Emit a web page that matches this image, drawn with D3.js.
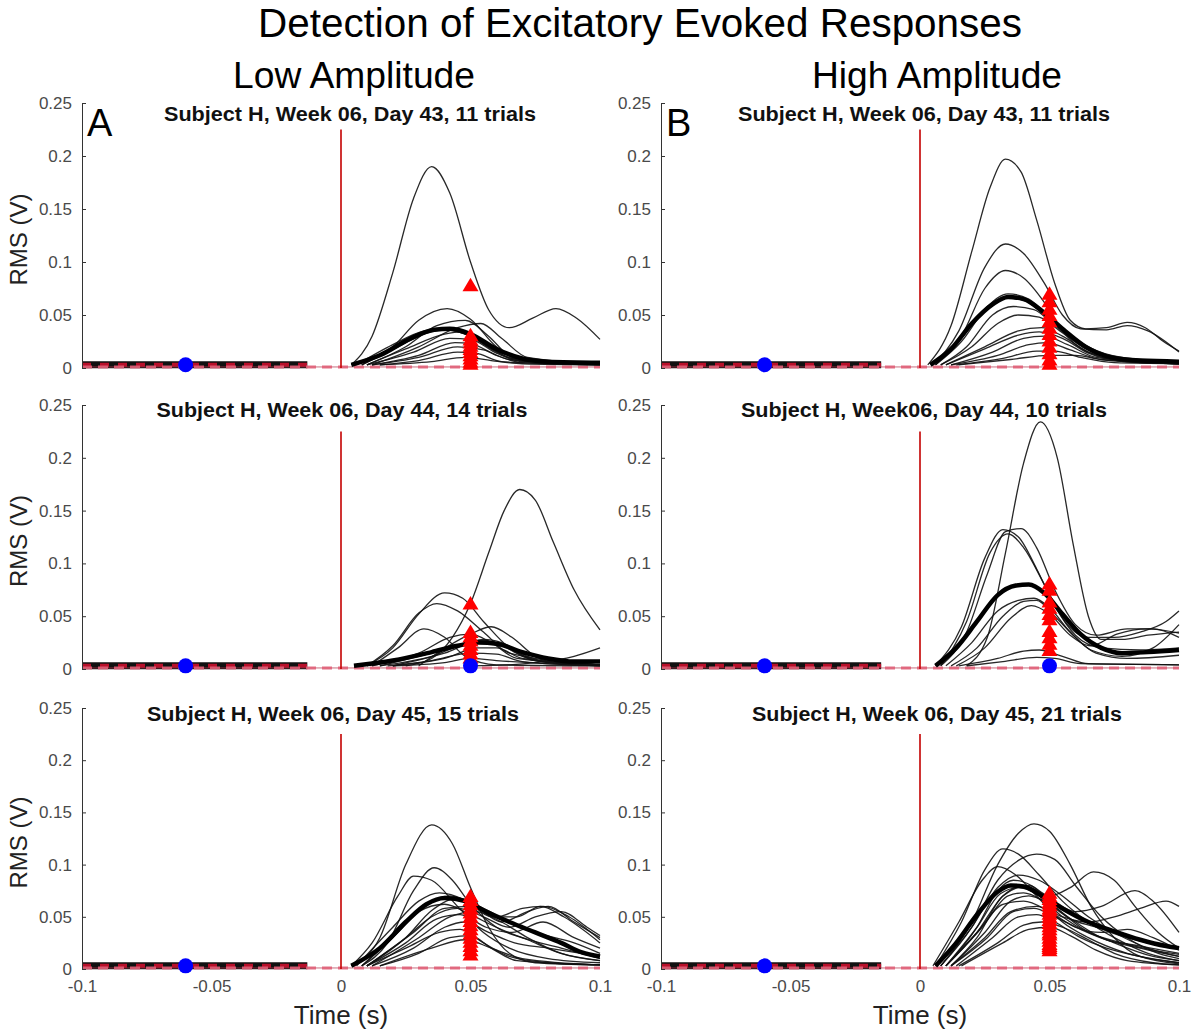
<!DOCTYPE html>
<html><head><meta charset="utf-8">
<script src="https://cdn.jsdelivr.net/npm/d3@7"></script>
<style>
body{margin:0;background:#fff}
svg{display:block}
text{font-family:"Liberation Sans",Arial,Helvetica,sans-serif}
</style>
</head><body>
<svg id="chart" width="1200" height="1030"></svg>
<script>
// ---------------- DATA ----------------
const figureTitle = "Detection of Excitatory Evoked Responses";
const columnTitles = ["Low Amplitude", "High Amplitude"];
// panel order: row1 left, row1 right, row2 left, row2 right, row3 left, row3 right
const panelTitles = [
  "Subject H, Week 06, Day 43, 11 trials",
  "Subject H, Week 06, Day 43, 11 trials",
  "Subject H, Week 06, Day 44, 14 trials",
  "Subject H, Week06, Day 44, 10 trials",
  "Subject H, Week 06, Day 45, 15 trials",
  "Subject H, Week 06, Day 45, 21 trials"
];
const panelLetters = ["A", "B", "", "", "", ""];
const timeTicks = [-0.1, -0.05, 0, 0.05, 0.1];
const rmsTicks = [0, 0.05, 0.1, 0.15, 0.2, 0.25];
const timeDomain = [-0.1, 0.1];
const rmsDomain = [0, 0.25];
const stimulusTime = 0;
const stimulusTop = 0.225;
const detectionTime = 0.05;
const baselineRms = [0.003, 0.003, 0.003, 0.003, 0.003, 0.003];
const baselineEnd = [-0.013, -0.015, -0.013, -0.015, -0.013, -0.015];
const thresholdRms = [0.001, 0.001, 0.001, 0.001, 0.001, 0.001];

const blueDotsA1 = [[-0.06, 0.003]];
const blueDotsB1 = [[-0.06, 0.003]];
const blueDotsA2 = [[-0.06, 0.003], [0.05, 0.003]];
const blueDotsB2 = [[-0.06, 0.003], [0.05, 0.003]];
const blueDotsA3 = [[-0.06, 0.003]];
const blueDotsB3 = [[-0.06, 0.003]];

const trianglesA1 = [0.078, 0.031, 0.027, 0.024, 0.021, 0.018, 0.015, 0.012, 0.009, 0.006, 0.004];
const trianglesB1 = [0.07, 0.063, 0.056, 0.05, 0.044, 0.038, 0.032, 0.026, 0.02, 0.014, 0.008, 0.004];
const trianglesA2 = [0.062, 0.035, 0.031, 0.027, 0.023, 0.019, 0.015, 0.011];
const trianglesB2 = [0.081, 0.075, 0.064, 0.058, 0.052, 0.047, 0.036, 0.03, 0.024, 0.018];
const trianglesA3 = [0.07, 0.066, 0.062, 0.058, 0.054, 0.05, 0.046, 0.042, 0.038, 0.034, 0.03, 0.026, 0.022, 0.018, 0.014];
const trianglesB3 = [0.073, 0.07, 0.067, 0.064, 0.061, 0.058, 0.056, 0.053, 0.05, 0.047, 0.044, 0.041, 0.038, 0.035, 0.033, 0.03, 0.027, 0.024, 0.022, 0.02, 0.018];

const trialsA1 = [
  [[0.004,0.003],[0.012,0.03],[0.02,0.09],[0.028,0.16],[0.035,0.19],[0.042,0.165],[0.05,0.1],[0.057,0.055],[0.065,0.038],[0.074,0.047],[0.083,0.056],[0.091,0.047],[0.1,0.027]],
  [[0.008,0.003],[0.02,0.02],[0.03,0.045],[0.041,0.056],[0.05,0.046],[0.06,0.02],[0.07,0.008],[0.1,0.004]],
  [[0.01,0.003],[0.025,0.02],[0.037,0.04],[0.048,0.045],[0.057,0.03],[0.066,0.01],[0.08,0.005],[0.1,0.004]],
  [[0.012,0.003],[0.03,0.02],[0.045,0.038],[0.054,0.042],[0.062,0.028],[0.072,0.01],[0.1,0.004]],
  [[0.008,0.003],[0.022,0.02],[0.033,0.033],[0.04,0.036],[0.05,0.03],[0.06,0.015],[0.072,0.006],[0.1,0.004]],
  [[0.01,0.003],[0.025,0.018],[0.04,0.032],[0.047,0.034],[0.056,0.022],[0.066,0.009],[0.1,0.004]],
  [[0.01,0.003],[0.028,0.015],[0.042,0.028],[0.05,0.027],[0.06,0.014],[0.07,0.006],[0.1,0.004]],
  [[0.012,0.003],[0.03,0.012],[0.044,0.024],[0.05,0.023],[0.06,0.012],[0.07,0.005],[0.1,0.003]],
  [[0.012,0.003],[0.03,0.01],[0.045,0.02],[0.055,0.017],[0.065,0.008],[0.1,0.003]],
  [[0.015,0.003],[0.03,0.007],[0.045,0.015],[0.052,0.014],[0.062,0.006],[0.1,0.003]],
  [[0.015,0.003],[0.035,0.006],[0.048,0.01],[0.058,0.007],[0.07,0.004],[0.1,0.003]],
  [[0.006,0.003],[0.02,0.022],[0.032,0.035],[0.038,0.037],[0.048,0.032],[0.06,0.016],[0.075,0.007],[0.1,0.005]]
];
const meanA1 = [[0.004,0.003],[0.015,0.012],[0.027,0.028],[0.036,0.036],[0.042,0.037],[0.05,0.032],[0.06,0.018],[0.07,0.009],[0.08,0.006],[0.1,0.005]];

const trialsB1 = [
  [[0.003,0.003],[0.012,0.04],[0.02,0.11],[0.027,0.17],[0.033,0.197],[0.039,0.185],[0.045,0.14],[0.052,0.08],[0.058,0.045],[0.064,0.037],[0.072,0.038],[0.08,0.043],[0.087,0.038],[0.094,0.025],[0.1,0.016]],
  [[0.005,0.003],[0.015,0.035],[0.025,0.095],[0.033,0.117],[0.04,0.108],[0.048,0.08],[0.055,0.05],[0.062,0.037],[0.072,0.036],[0.08,0.04],[0.088,0.035],[0.1,0.015]],
  [[0.006,0.003],[0.016,0.03],[0.025,0.075],[0.033,0.092],[0.04,0.085],[0.048,0.062],[0.055,0.035],[0.065,0.015],[0.08,0.008],[0.1,0.005]],
  [[0.006,0.003],[0.016,0.025],[0.026,0.058],[0.034,0.07],[0.042,0.065],[0.05,0.048],[0.058,0.03],[0.068,0.015],[0.08,0.008],[0.1,0.005]],
  [[0.008,0.003],[0.018,0.02],[0.028,0.05],[0.036,0.058],[0.044,0.055],[0.052,0.04],[0.06,0.025],[0.07,0.012],[0.1,0.005]],
  [[0.008,0.003],[0.02,0.02],[0.03,0.042],[0.038,0.05],[0.046,0.048],[0.054,0.035],[0.064,0.018],[0.075,0.009],[0.1,0.005]],
  [[0.01,0.003],[0.025,0.02],[0.038,0.035],[0.047,0.038],[0.055,0.03],[0.065,0.015],[0.08,0.006],[0.1,0.004]],
  [[0.01,0.003],[0.025,0.018],[0.038,0.031],[0.046,0.034],[0.055,0.028],[0.065,0.014],[0.08,0.006],[0.1,0.004]],
  [[0.012,0.003],[0.028,0.015],[0.04,0.028],[0.048,0.03],[0.057,0.022],[0.068,0.01],[0.1,0.004]],
  [[0.012,0.003],[0.03,0.012],[0.042,0.022],[0.049,0.024],[0.058,0.017],[0.07,0.008],[0.1,0.004]],
  [[0.014,0.003],[0.032,0.009],[0.045,0.016],[0.052,0.016],[0.062,0.01],[0.075,0.005],[0.1,0.004]],
  [[0.015,0.003],[0.035,0.008],[0.05,0.012],[0.06,0.012],[0.07,0.008],[0.1,0.004]],
  [[0.006,0.003],[0.016,0.028],[0.025,0.055],[0.033,0.066],[0.04,0.064],[0.048,0.05],[0.056,0.035],[0.065,0.02],[0.078,0.01],[0.1,0.006]]
];
const meanB1 = [[0.004,0.003],[0.012,0.018],[0.02,0.042],[0.028,0.06],[0.034,0.067],[0.04,0.065],[0.048,0.052],[0.056,0.035],[0.064,0.02],[0.074,0.01],[0.085,0.007],[0.1,0.006]];

const trialsA2 = [
  [[0.025,0.003],[0.035,0.01],[0.043,0.03],[0.05,0.062],[0.057,0.11],[0.063,0.15],[0.069,0.17],[0.075,0.16],[0.082,0.12],[0.09,0.075],[0.1,0.037]],
  [[0.01,0.003],[0.02,0.02],[0.03,0.052],[0.04,0.072],[0.047,0.067],[0.055,0.045],[0.065,0.02],[0.075,0.008],[0.1,0.004]],
  [[0.01,0.003],[0.02,0.022],[0.03,0.053],[0.037,0.062],[0.045,0.055],[0.055,0.035],[0.065,0.015],[0.1,0.004]],
  [[0.012,0.003],[0.022,0.02],[0.032,0.038],[0.04,0.03],[0.048,0.012],[0.06,0.004],[0.1,0.003]],
  [[0.015,0.003],[0.03,0.012],[0.045,0.022],[0.055,0.027],[0.065,0.02],[0.075,0.008],[0.1,0.004]],
  [[0.015,0.003],[0.035,0.012],[0.05,0.025],[0.058,0.026],[0.068,0.015],[0.08,0.006],[0.1,0.004]],
  [[0.02,0.003],[0.04,0.015],[0.055,0.028],[0.062,0.025],[0.072,0.012],[0.085,0.005],[0.1,0.004]],
  [[0.02,0.003],[0.04,0.01],[0.053,0.02],[0.06,0.02],[0.07,0.01],[0.1,0.004]],
  [[0.018,0.003],[0.035,0.008],[0.05,0.015],[0.06,0.014],[0.07,0.007],[0.1,0.003]],
  [[0.02,0.003],[0.04,0.006],[0.05,0.01],[0.06,0.008],[0.1,0.003]],
  [[0.03,0.003],[0.05,0.033],[0.058,0.04],[0.066,0.03],[0.075,0.012],[0.085,0.005],[0.1,0.004]],
  [[0.05,0.003],[0.065,0.004],[0.075,0.006],[0.09,0.012],[0.1,0.02]],
  [[0.012,0.003],[0.03,0.015],[0.042,0.03],[0.05,0.033],[0.058,0.025],[0.068,0.01],[0.1,0.004]]
];
const meanA2 = [[0.005,0.003],[0.02,0.008],[0.035,0.016],[0.045,0.022],[0.053,0.025],[0.06,0.024],[0.07,0.016],[0.08,0.01],[0.09,0.007],[0.1,0.007]];

const trialsB2 = [
  [[0.018,0.003],[0.026,0.03],[0.033,0.11],[0.04,0.195],[0.0465,0.234],[0.053,0.2],[0.059,0.12],[0.065,0.05],[0.07,0.028],[0.078,0.028],[0.088,0.032],[0.1,0.035]],
  [[0.006,0.003],[0.016,0.04],[0.025,0.105],[0.032,0.132],[0.038,0.125],[0.045,0.095],[0.052,0.06],[0.06,0.032],[0.07,0.02],[0.085,0.018],[0.1,0.02]],
  [[0.008,0.003],[0.018,0.035],[0.026,0.09],[0.033,0.13],[0.039,0.133],[0.045,0.115],[0.052,0.075],[0.06,0.042],[0.068,0.032],[0.08,0.038],[0.09,0.038],[0.1,0.03]],
  [[0.008,0.003],[0.018,0.045],[0.027,0.11],[0.034,0.128],[0.04,0.115],[0.048,0.08],[0.056,0.045],[0.065,0.03],[0.075,0.03],[0.085,0.035],[0.095,0.045],[0.1,0.055]],
  [[0.01,0.003],[0.02,0.025],[0.03,0.055],[0.038,0.065],[0.044,0.067],[0.05,0.058],[0.058,0.035],[0.066,0.018],[0.078,0.012],[0.09,0.02],[0.1,0.042]],
  [[0.012,0.003],[0.022,0.02],[0.032,0.05],[0.04,0.064],[0.045,0.065],[0.052,0.05],[0.06,0.03],[0.068,0.015],[0.08,0.01],[0.1,0.013]],
  [[0.014,0.003],[0.025,0.02],[0.035,0.048],[0.043,0.06],[0.05,0.052],[0.058,0.032],[0.066,0.022],[0.076,0.033],[0.088,0.038],[0.1,0.034]],
  [[0.015,0.003],[0.03,0.01],[0.04,0.017],[0.046,0.018],[0.055,0.012],[0.065,0.005],[0.1,0.004]],
  [[0.018,0.003],[0.032,0.007],[0.045,0.011],[0.052,0.01],[0.062,0.005],[0.1,0.004]]
];
const meanB2 = [[0.006,0.003],[0.014,0.02],[0.022,0.045],[0.03,0.07],[0.037,0.079],[0.042,0.08],[0.048,0.072],[0.055,0.052],[0.062,0.033],[0.07,0.02],[0.078,0.015],[0.088,0.016],[0.1,0.018]];

const trialsA3 = [
  [[0.004,0.003],[0.015,0.03],[0.025,0.1],[0.035,0.138],[0.043,0.12],[0.05,0.078],[0.057,0.04],[0.065,0.015],[0.075,0.006],[0.1,0.004]],
  [[0.008,0.003],[0.018,0.025],[0.028,0.075],[0.036,0.097],[0.043,0.085],[0.05,0.062],[0.06,0.04],[0.072,0.028],[0.085,0.015],[0.1,0.008]],
  [[0.004,0.003],[0.012,0.025],[0.022,0.07],[0.028,0.089],[0.035,0.085],[0.045,0.06],[0.055,0.035],[0.065,0.02],[0.08,0.01],[0.1,0.006]],
  [[0.006,0.003],[0.02,0.04],[0.03,0.065],[0.038,0.073],[0.048,0.066],[0.058,0.05],[0.068,0.05],[0.077,0.06],[0.086,0.05],[0.1,0.025]],
  [[0.008,0.003],[0.022,0.035],[0.032,0.06],[0.042,0.07],[0.052,0.06],[0.062,0.045],[0.072,0.055],[0.08,0.06],[0.09,0.045],[0.1,0.03]],
  [[0.01,0.003],[0.025,0.03],[0.035,0.05],[0.045,0.058],[0.055,0.05],[0.065,0.04],[0.075,0.05],[0.085,0.055],[0.095,0.04],[0.1,0.032]],
  [[0.01,0.003],[0.025,0.025],[0.037,0.048],[0.046,0.052],[0.056,0.04],[0.066,0.035],[0.078,0.045],[0.09,0.03],[0.1,0.02]],
  [[0.012,0.003],[0.028,0.02],[0.04,0.04],[0.048,0.045],[0.057,0.035],[0.067,0.025],[0.08,0.02],[0.1,0.012]],
  [[0.01,0.003],[0.025,0.02],[0.038,0.035],[0.046,0.038],[0.055,0.025],[0.065,0.012],[0.08,0.006],[0.1,0.004]],
  [[0.015,0.003],[0.03,0.015],[0.042,0.03],[0.05,0.032],[0.058,0.02],[0.068,0.008],[0.1,0.004]],
  [[0.008,0.003],[0.02,0.03],[0.03,0.055],[0.04,0.062],[0.05,0.052],[0.06,0.04],[0.07,0.03],[0.085,0.02],[0.1,0.01]],
  [[0.01,0.003],[0.025,0.03],[0.035,0.056],[0.045,0.068],[0.055,0.058],[0.065,0.045],[0.075,0.035],[0.09,0.025],[0.1,0.015]],
  [[0.012,0.003],[0.03,0.03],[0.042,0.05],[0.052,0.055],[0.062,0.045],[0.072,0.03],[0.085,0.015],[0.1,0.008]],
  [[0.01,0.003],[0.028,0.035],[0.04,0.058],[0.05,0.06],[0.06,0.05],[0.07,0.058],[0.078,0.06],[0.088,0.05],[0.1,0.028]],
  [[0.015,0.003],[0.035,0.02],[0.048,0.028],[0.058,0.02],[0.07,0.01],[0.1,0.004]]
];
const meanA3 = [[0.004,0.003],[0.015,0.02],[0.025,0.045],[0.033,0.062],[0.04,0.068],[0.048,0.065],[0.056,0.055],[0.065,0.045],[0.075,0.035],[0.085,0.025],[0.093,0.016],[0.1,0.012]];

const trialsB3 = [
  [[0.008,0.003],[0.02,0.045],[0.03,0.1],[0.038,0.13],[0.044,0.139],[0.05,0.132],[0.058,0.1],[0.066,0.06],[0.075,0.03],[0.085,0.012],[0.1,0.005]],
  [[0.006,0.003],[0.016,0.045],[0.025,0.095],[0.032,0.115],[0.038,0.11],[0.046,0.09],[0.055,0.065],[0.065,0.045],[0.075,0.03],[0.088,0.015],[0.1,0.008]],
  [[0.008,0.003],[0.02,0.04],[0.03,0.085],[0.038,0.104],[0.045,0.11],[0.052,0.105],[0.06,0.08],[0.07,0.05],[0.08,0.03],[0.092,0.015],[0.1,0.01]],
  [[0.005,0.003],[0.015,0.045],[0.024,0.085],[0.03,0.098],[0.037,0.09],[0.045,0.07],[0.055,0.045],[0.065,0.03],[0.08,0.015],[0.1,0.006]],
  [[0.012,0.003],[0.022,0.03],[0.032,0.07],[0.042,0.08],[0.05,0.07],[0.058,0.078],[0.067,0.093],[0.075,0.085],[0.083,0.06],[0.092,0.035],[0.1,0.02]],
  [[0.01,0.003],[0.022,0.035],[0.032,0.07],[0.04,0.08],[0.05,0.068],[0.06,0.055],[0.07,0.06],[0.083,0.075],[0.09,0.065],[0.1,0.035]],
  [[0.012,0.003],[0.025,0.03],[0.035,0.055],[0.045,0.06],[0.055,0.05],[0.065,0.045],[0.075,0.05],[0.085,0.058],[0.095,0.065],[0.1,0.06]],
  [[0.01,0.003],[0.022,0.04],[0.03,0.075],[0.036,0.085],[0.043,0.08],[0.052,0.06],[0.062,0.04],[0.075,0.025],[0.09,0.012],[0.1,0.008]],
  [[0.01,0.003],[0.022,0.04],[0.031,0.072],[0.038,0.078],[0.045,0.072],[0.055,0.05],[0.065,0.035],[0.078,0.025],[0.09,0.018],[0.1,0.014]],
  [[0.012,0.003],[0.025,0.035],[0.035,0.065],[0.042,0.07],[0.05,0.062],[0.06,0.045],[0.07,0.03],[0.085,0.02],[0.1,0.012]],
  [[0.014,0.003],[0.028,0.03],[0.038,0.05],[0.045,0.052],[0.052,0.045],[0.062,0.03],[0.072,0.02],[0.085,0.012],[0.1,0.006]],
  [[0.015,0.003],[0.03,0.025],[0.04,0.042],[0.047,0.045],[0.055,0.04],[0.065,0.028],[0.075,0.015],[0.09,0.006],[0.1,0.004]],
  [[0.016,0.003],[0.032,0.025],[0.042,0.038],[0.05,0.04],[0.058,0.032],[0.068,0.018],[0.08,0.008],[0.1,0.004]],
  [[0.008,0.003],[0.02,0.04],[0.03,0.078],[0.038,0.09],[0.046,0.085],[0.055,0.07],[0.065,0.05],[0.075,0.035],[0.088,0.02],[0.1,0.012]],
  [[0.01,0.003],[0.022,0.035],[0.032,0.062],[0.04,0.065],[0.05,0.055],[0.06,0.04],[0.07,0.035],[0.08,0.038],[0.09,0.03],[0.1,0.018]],
  [[0.012,0.003],[0.026,0.03],[0.036,0.055],[0.044,0.058],[0.052,0.05],[0.062,0.038],[0.072,0.028],[0.085,0.022],[0.1,0.015]],
  [[0.01,0.003],[0.024,0.04],[0.034,0.07],[0.04,0.073],[0.048,0.065],[0.058,0.048],[0.068,0.04],[0.08,0.03],[0.1,0.02]]
];
const meanB3 = [[0.006,0.003],[0.014,0.025],[0.022,0.052],[0.03,0.074],[0.035,0.08],[0.04,0.079],[0.047,0.07],[0.055,0.058],[0.065,0.045],[0.075,0.036],[0.085,0.028],[0.095,0.022],[0.1,0.02]];

// --------------- LAYOUT ---------------
const panels = [
  {trials: trialsA1, mean: meanA1, tri: trianglesA1, dots: blueDotsA1},
  {trials: trialsB1, mean: meanB1, tri: trianglesB1, dots: blueDotsB1},
  {trials: trialsA2, mean: meanA2, tri: trianglesA2, dots: blueDotsA2},
  {trials: trialsB2, mean: meanB2, tri: trianglesB2, dots: blueDotsB2},
  {trials: trialsA3, mean: meanA3, tri: trianglesA3, dots: blueDotsA3},
  {trials: trialsB3, mean: meanB3, tri: trianglesB3, dots: blueDotsB3}
];
const colPx = [[82, 600], [661, 1179]];
const rowPx = [[368, 103], [669, 405], [969, 708]];
const titlePos = [[350, 121, 372], [924, 121, 372], [342, 417, 371], [924, 417, 366], [333, 721, 372], [937, 721, 370]];

const svg = d3.select("#chart");
const FONT = '"Liberation Sans", Arial, Helvetica, sans-serif';

svg.append("text").attr("x", 640).attr("y", 37).attr("text-anchor", "middle")
  .attr("font-size", 40).attr("fill", "#000").text(figureTitle)
  .attr("textLength", 764).attr("lengthAdjust", "spacingAndGlyphs");
[[354, 242], [937, 250]].forEach((p, i) => {
  svg.append("text").attr("x", p[0]).attr("y", 88).attr("text-anchor", "middle")
    .attr("font-size", 37).attr("fill", "#000").text(columnTitles[i])
    .attr("textLength", p[1]).attr("lengthAdjust", "spacingAndGlyphs");
});

const triPath = "M0,-7.5L8,6L-8,6Z";

panels.forEach((p, i) => {
  const col = i % 2, row = Math.floor(i / 2);
  const x = d3.scaleLinear().domain(timeDomain).range(colPx[col]);
  const y = d3.scaleLinear().domain(rmsDomain).range(rowPx[row]);
  const g = svg.append("g");
  const line = d3.line().x(d => x(d[0])).y(d => y(d[1])).curve(d3.curveMonotoneX);

  // pre-stimulus baseline band
  const band = [[timeDomain[0], baselineRms[i]], [baselineEnd[i], baselineRms[i]]];
  g.append("path").attr("d", line(band)).attr("fill", "none")
    .attr("stroke", "#111").attr("stroke-width", 7);
  g.append("path").attr("d", line(band)).attr("fill", "none")
    .attr("stroke", "#b8102a").attr("stroke-width", 4).attr("stroke-dasharray", "9,9");
  // threshold dashed line
  const thr = [[timeDomain[0], thresholdRms[i]], [timeDomain[1], thresholdRms[i]]];
  g.append("path").attr("d", line(thr)).attr("fill", "none")
    .attr("stroke", "#b03048").attr("stroke-width", 1).attr("opacity", 0.7);
  g.append("path").attr("d", line(thr)).attr("fill", "none")
    .attr("stroke", "#e06078").attr("stroke-width", 3).attr("stroke-dasharray", "10,6").attr("opacity", 0.9);

  // stimulus line
  g.append("line").attr("x1", x(stimulusTime)).attr("x2", x(stimulusTime))
    .attr("y1", y(0)).attr("y2", y(stimulusTop))
    .attr("stroke", "#c40000").attr("stroke-width", 1.6);

  // trials
  g.selectAll(".trial").data(p.trials).join("path").attr("class", "trial")
    .attr("d", line).attr("fill", "none").attr("stroke", "#111")
    .attr("stroke-width", 1.3).attr("stroke-opacity", 0.9);
  // mean
  g.append("path").attr("d", line(p.mean)).attr("fill", "none")
    .attr("stroke", "#000").attr("stroke-width", 4.5).attr("stroke-linejoin", "round");

  // detection triangles
  g.selectAll(".tri").data(p.tri).join("path").attr("class", "tri")
    .attr("transform", d => `translate(${x(detectionTime)},${y(d)})`)
    .attr("d", triPath).attr("fill", "#ff0000");

  // blue dots
  g.selectAll(".dot").data(p.dots).join("circle").attr("class", "dot")
    .attr("cx", d => x(d[0])).attr("cy", d => y(d[1])).attr("r", 7.5).attr("fill", "#0000ff");

  // y axis
  const ya = g.append("g").attr("transform", `translate(${colPx[col][0]},0)`)
    .call(d3.axisLeft(y).tickValues(rmsTicks).tickSizeInner(-4).tickSizeOuter(0)
      .tickPadding(10).tickFormat(d => String(d)));
  ya.select(".domain").attr("stroke", "#333");
  ya.selectAll(".tick line").attr("stroke", "#333");
  ya.selectAll("text").attr("font-size", 17).attr("fill", "#4a4a4a").attr("font-family", FONT);

  // x axis (bottom row only)
  if (row === 2) {
    const xa = g.append("g").attr("transform", `translate(0,${rowPx[row][0]})`)
      .call(d3.axisBottom(x).tickValues(timeTicks).tickSize(0).tickPadding(11)
        .tickFormat(d => String(d)));
    xa.select(".domain").remove();
    xa.selectAll("text").attr("font-size", 17).attr("fill", "#4a4a4a").attr("font-family", FONT);
    g.append("text").attr("x", x(0)).attr("y", 1024).attr("text-anchor", "middle")
      .attr("font-size", 26).attr("fill", "#222").text("Time (s)");
  }

  // y label (left column only)
  if (col === 0) {
    const cy = (rowPx[row][0] + rowPx[row][1]) / 2 + 4;
    g.append("text").attr("transform", `translate(27,${cy}) rotate(-90)`)
      .attr("text-anchor", "middle").attr("font-size", 24).attr("fill", "#222").text("RMS (V)");
  }

  // panel title
  const tp = titlePos[i];
  g.append("text").attr("x", tp[0]).attr("y", tp[1]).attr("text-anchor", "middle")
    .attr("font-size", 20).attr("font-weight", "bold").attr("fill", "#111")
    .attr("textLength", tp[2]).attr("lengthAdjust", "spacingAndGlyphs").text(panelTitles[i]);

  // panel letter
  if (panelLetters[i]) {
    g.append("text").attr("x", colPx[col][0] + 5).attr("y", 136)
      .attr("font-size", 38).attr("fill", "#000").text(panelLetters[i]);
  }
});
</script>
</body></html>
